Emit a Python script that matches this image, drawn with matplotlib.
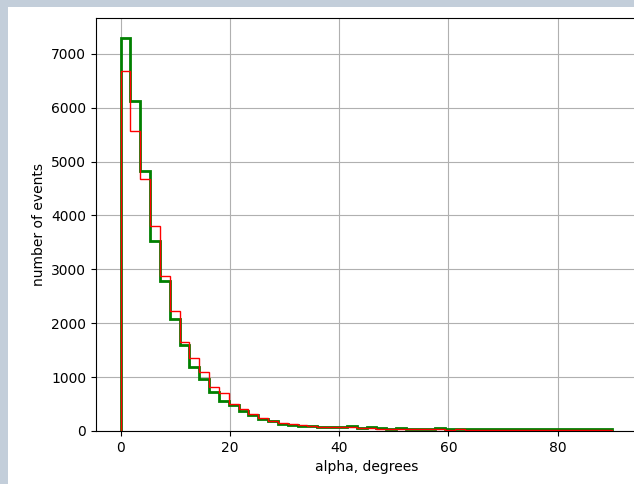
import numpy as np
import matplotlib
matplotlib.use('Agg')
import matplotlib.pyplot as plt
from matplotlib.patches import Rectangle

# bin edges: 50 bins of 1.8 degrees between 0 and 90
edges = np.linspace(0, 90, 51)
centers = (edges[:-1] + edges[1:]) / 2

green_counts = [7300, 6120, 4830, 3520, 2780, 2070, 1600, 1180, 960, 730,
                560, 480, 380, 290, 220, 190, 130, 117, 93, 86,
                80, 78, 70, 95, 60, 65, 50, 45, 48, 40,
                45, 42, 48, 40, 45, 40, 42, 45, 40, 42,
                38, 40, 45, 38, 45, 35, 40, 45, 35, 45]
red_counts = [6690, 5570, 4680, 3810, 2880, 2230, 1650, 1360, 1100, 820,
              700, 510, 410, 310, 250, 185, 142, 123, 105, 93,
              80, 75, 70, 65, 55, 60, 45, 40, 38, 32,
              30, 28, 30, 25, 28, 25, 27, 24, 25, 22,
              25, 20, 22, 20, 22, 18, 20, 20, 18, 20]

fig = plt.figure(figsize=(6.34, 4.84), dpi=100)
fig.patch.set_facecolor('#c3ceda')
# white page area (screenshot is offset by a few pixels)
fig.patches.append(Rectangle((8 / 634, 0), 1, (484 - 7) / 484,
                             transform=fig.transFigure, facecolor='white',
                             edgecolor='none', zorder=-10))

# right part of the axes is cut off in the screenshot
ax = fig.add_axes([96 / 634, 53 / 484, 541 / 634, 413 / 484])
ax.set_zorder(1)
ax.hist(centers, bins=edges, weights=green_counts, histtype='step',
        color='green', linewidth=2)
ax.hist(centers, bins=edges, weights=red_counts, histtype='step',
        color='red', linewidth=1)
ax.set_xlim(-4.5, 94.5)
ax.set_ylim(0, 7665)
ax.grid(True)
ax.set_axisbelow(True)
ax.set_xlabel('alpha, degrees')
ax.set_ylabel('number of events')

fig.savefig('out.png', dpi=100, facecolor=fig.get_facecolor())
